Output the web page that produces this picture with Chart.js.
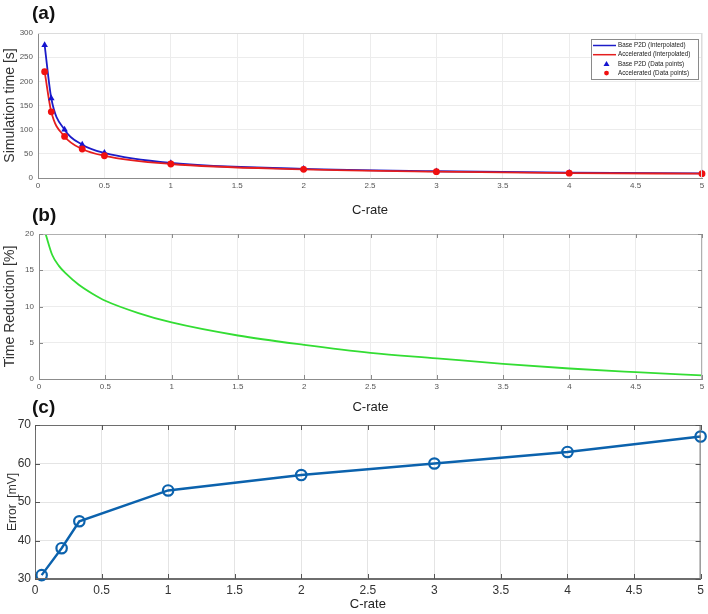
<!DOCTYPE html>
<html><head><meta charset="utf-8">
<script src="https://cdn.jsdelivr.net/npm/chart.js@4.4.1/dist/chart.umd.min.js"></script>
<style>
html,body{margin:0;padding:0;background:#fff;}
body{width:708px;height:614px;position:relative;overflow:hidden;font-family:"Liberation Sans",Arial,sans-serif;}
canvas{position:absolute;left:0;}
.tag{position:absolute;font-weight:bold;font-size:19px;line-height:19px;color:#111;}
</style></head><body>
<canvas id="ca" width="708" height="225" style="top:0"></canvas>
<canvas id="cb" width="708" height="200" style="top:215px"></canvas>
<canvas id="cc" width="708" height="209" style="top:405px"></canvas>
<div class="tag" style="left:32px;top:3px">(a)</div>
<div class="tag" style="left:32px;top:205px">(b)</div>
<div class="tag" style="left:32px;top:397px">(c)</div>
<script>
// ---- data ----
const cRate = [0.05, 0.1, 0.2, 0.333, 0.5, 1, 2, 3, 4, 5];
const baseP2D = [275, 165, 100, 69, 52, 31, 19, 14, 11, 9.5];
const accelerated = [220, 137, 86, 60, 46, 29, 18, 13, 10, 9];

const reductionCRate = [0.05, 0.1, 0.15, 0.2, 0.3, 0.4, 0.5, 0.75, 1, 1.5, 2, 2.5, 3, 3.5, 4, 4.5, 5];
const reduction = [20, 17.1, 15.6, 14.6, 13.0, 11.8, 10.8, 9.1, 7.8, 6.0, 4.7, 3.6, 2.85, 2.1, 1.45, 0.95, 0.5];

const errorCRate = [0.05, 0.2, 0.333, 1, 2, 3, 4, 5];
const errorMV = [31, 38, 45, 53, 57, 60, 63, 67];

const legendLabels = ['Base P2D (Interpolated)', 'Accelerated (Interpolated)', 'Base P2D (Data points)', 'Accelerated (Data points)'];
const xTitle = 'C-rate';

Chart.defaults.font.family = '"Liberation Sans", Arial, sans-serif';
Chart.defaults.animation = false;

const pts = (xs, ys) => xs.map((x, i) => ({x, y: ys[i]}));
const fmt = v => String(Math.round(v * 100) / 100);

// frame plugin: box around plot + inward tick marks
const frame = {
  id: 'frame',
  afterDraw(chart, args, o) {
    const {ctx, chartArea: a, scales: {x, y}} = chart;
    ctx.save();
    ctx.lineWidth = 1;
    ctx.strokeStyle = o.boxColor;
    ctx.beginPath();
    ctx.moveTo(a.left, a.top + 0.5); ctx.lineTo(a.right, a.top + 0.5);
    ctx.moveTo(a.right - 0.5, a.top); ctx.lineTo(a.right - 0.5, a.bottom);
    if (o.full) {
      ctx.moveTo(a.left, a.bottom - 0.5); ctx.lineTo(a.right, a.bottom - 0.5);
      ctx.moveTo(a.left + 0.5, a.top); ctx.lineTo(a.left + 0.5, a.bottom);
    }
    ctx.stroke();
    if (o.tickLen) {
      ctx.strokeStyle = o.tickColor;
      ctx.beginPath();
      x.ticks.forEach(t => {
        const p = Math.round(x.getPixelForValue(t.value)) + 0.5;
        ctx.moveTo(p, a.bottom); ctx.lineTo(p, a.bottom - o.tickLen);
        ctx.moveTo(p, a.top); ctx.lineTo(p, a.top + o.tickLen);
      });
      y.ticks.forEach(t => {
        const p = Math.round(y.getPixelForValue(t.value)) + 0.5;
        ctx.moveTo(a.left, p); ctx.lineTo(a.left + o.tickLen, p);
        ctx.moveTo(a.right, p); ctx.lineTo(a.right - o.tickLen, p);
      });
      ctx.stroke();
    }
    ctx.restore();
  }
};

// legend inside the plot area (panel a)
const boxLegend = {
  id: 'boxLegend',
  afterDraw(chart) {
    const {ctx, chartArea: a} = chart;
    const w = 107, h = 40;
    const x0 = a.right - 4 - w, y0 = a.top + 6;
    ctx.save();
    ctx.fillStyle = '#fff';
    ctx.fillRect(x0, y0, w, h);
    ctx.strokeStyle = '#8a8a8a';
    ctx.lineWidth = 1;
    ctx.strokeRect(x0 + 0.5, y0 + 0.5, w, h);
    ctx.font = '6.3px "Liberation Sans", Arial, sans-serif';
    ctx.textBaseline = 'middle';
    ctx.fillStyle = '#222';
    chart.data.datasets.forEach((ds, i) => {
      const cy = y0 + 6.5 + i * 9.2;
      if (ds.showLine) {
        ctx.strokeStyle = ds.borderColor;
        ctx.lineWidth = 1.5;
        ctx.beginPath(); ctx.moveTo(x0 + 2, cy); ctx.lineTo(x0 + 25, cy); ctx.stroke();
      } else {
        ctx.fillStyle = ds.pointBackgroundColor;
        ctx.beginPath();
        if (ds.pointStyle === 'triangle') {
          ctx.moveTo(x0 + 15.5, cy - 3); ctx.lineTo(x0 + 18.5, cy + 2.2); ctx.lineTo(x0 + 12.5, cy + 2.2); ctx.closePath();
        } else {
          ctx.arc(x0 + 15.5, cy, 2.4, 0, Math.PI * 2);
        }
        ctx.fill();
      }
      ctx.fillStyle = '#222';
      ctx.fillText(legendLabels[i], x0 + 27, cy);
    });
    ctx.restore();
  }
};

function xScale(tickSize, tickColor, titleSize, titlePadBottom, height, tickPad, borderColor, gridColor) {
  return {
    type: 'linear', min: 0, max: 5,
    ticks: {stepSize: 0.5, font: {size: tickSize}, color: tickColor, padding: tickPad, maxRotation: 0, autoSkip: false, callback: fmt},
    grid: {color: gridColor, drawTicks: false},
    border: {color: borderColor, width: 1},
    title: {display: true, text: xTitle, font: {size: titleSize}, color: '#222', padding: {top: 0, bottom: titlePadBottom}},
    afterFit: s => { s.height = height; }
  };
}
function yScale(min, max, step, title, tickSize, tickColor, titleSize, titlePadTop, width, tickPad, borderColor, gridColor) {
  return {
    min, max,
    ticks: {stepSize: step, font: {size: tickSize}, color: tickColor, padding: tickPad, callback: fmt},
    grid: {color: gridColor, drawTicks: false},
    border: {color: borderColor, width: 1},
    title: {display: true, text: title, font: {size: titleSize}, color: '#333', padding: {top: titlePadTop, bottom: 0}},
    afterFit: s => { s.width = width; }
  };
}

// ---- panel (a) ----
new Chart(document.getElementById('ca'), {
  type: 'scatter',
  data: {
    datasets: [
      {label: legendLabels[0], data: pts(cRate, baseP2D), showLine: true, borderColor: '#1c1cc8', borderWidth: 1.8,
       pointRadius: 0, cubicInterpolationMode: 'monotone', order: 3},
      {label: legendLabels[1], data: pts(cRate, accelerated), showLine: true, borderColor: '#e51e1e', borderWidth: 1.8,
       pointRadius: 0, cubicInterpolationMode: 'monotone', order: 2},
      {label: legendLabels[2], data: pts(cRate, baseP2D), showLine: false, pointStyle: 'triangle', pointRadius: 3.8,
       pointBackgroundColor: '#1515d0', pointBorderColor: '#1515d0', pointBorderWidth: 0, clip: false, order: 1},
      {label: legendLabels[3], data: pts(cRate, accelerated), showLine: false, pointStyle: 'circle', pointRadius: 3.4,
       pointBackgroundColor: '#f01010', pointBorderColor: '#f01010', pointBorderWidth: 0, clip: false, order: 0}
    ]
  },
  options: {
    responsive: false,
    layout: {padding: {top: 33, left: 0, right: 6, bottom: 0}},
    plugins: {legend: {display: false}, tooltip: {enabled: false},
      frame: {boxColor: '#dcdcdc', full: false, tickLen: 0}},
    scales: {
      x: xScale(8, '#555', 13, 7, 47, 3, '#8c8c8c', '#ececec'),
      y: yScale(0, 300, 50, 'Simulation time [s]', 8, '#555', 14, 2, 38, 5, '#8c8c8c', '#ececec')
    }
  },
  plugins: [frame, boxLegend]
});

// ---- panel (b) ----
new Chart(document.getElementById('cb'), {
  type: 'scatter',
  data: {
    datasets: [
      {label: 'Time Reduction', data: pts(reductionCRate, reduction), showLine: true, borderColor: '#33dd33', borderWidth: 1.8,
       pointRadius: 0, cubicInterpolationMode: 'monotone'}
    ]
  },
  options: {
    responsive: false,
    layout: {padding: {top: 19, left: 0, right: 6, bottom: 0}},
    plugins: {legend: {display: false}, tooltip: {enabled: false},
      frame: {boxColor: '#b0b0b0', full: false, tickLen: 4, tickColor: '#8a8a8a'}},
    scales: {
      x: xScale(8, '#555', 13, 0, 36, 3, '#8c8c8c', '#ececec'),
      y: yScale(0, 20, 5, 'Time Reduction [%]', 8, '#555', 14, 2, 39, 5, '#8c8c8c', '#ececec')
    }
  },
  plugins: [frame]
});

// ---- panel (c) ----
new Chart(document.getElementById('cc'), {
  type: 'scatter',
  data: {
    datasets: [
      {label: 'Error', data: pts(errorCRate, errorMV), showLine: true, borderColor: '#0b62ad', borderWidth: 2.4,
       pointRadius: 5.2, pointStyle: 'circle', pointBackgroundColor: 'rgba(0,0,0,0)', pointBorderColor: '#0b62ad',
       pointBorderWidth: 2.2, clip: false}
    ]
  },
  options: {
    responsive: false,
    layout: {padding: {top: 20, left: 0, right: 6, bottom: 0}},
    plugins: {legend: {display: false}, tooltip: {enabled: false},
      frame: {boxColor: '#6e6e6e', full: true, tickLen: 5, tickColor: '#555'}},
    scales: {
      x: xScale(12, '#333', 13, 2, 35, 4, '#6e6e6e', '#e4e4e4'),
      y: yScale(30, 70, 10, 'Error  [mV]', 12, '#333', 12, 5, 35, 4, '#6e6e6e', '#e4e4e4')
    }
  },
  plugins: [frame]
});
</script>
</body></html>
